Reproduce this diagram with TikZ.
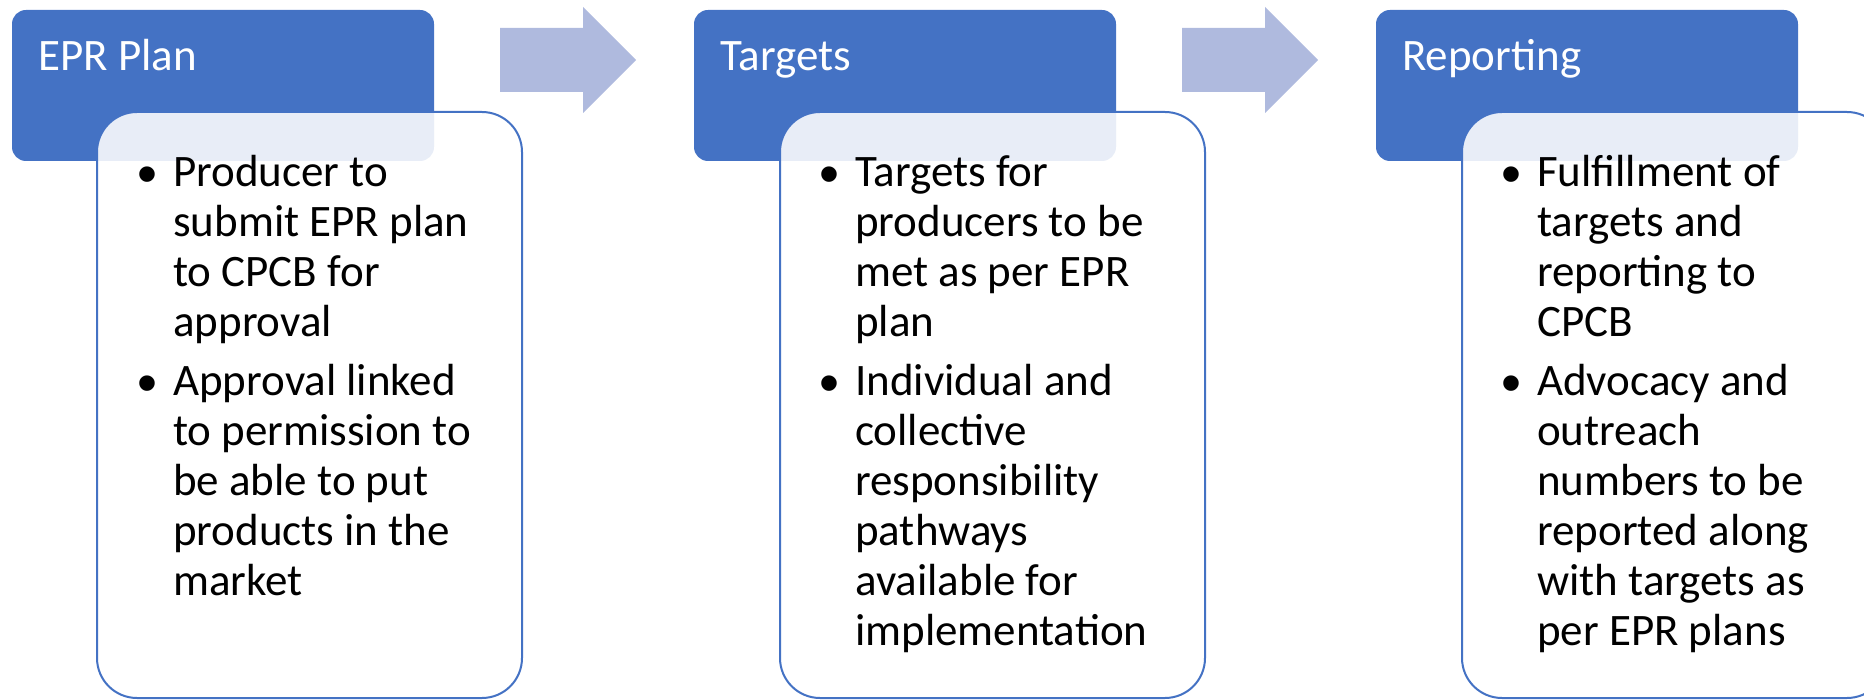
\documentclass[tikz,border=0pt]{standalone}
\usepackage{fontspec}
\setmainfont{Carlito}
\newfontfamily\bulletfont{Liberation Sans}

\definecolor{stageblue}{HTML}{4472C4}
\definecolor{arrowblue}{RGB}{175,186,222}

% one bulleted line and one continuation line of a stage's list
\newcommand{\bulletline}[1]{\hbox{\llap{{\bulletfont\fontsize{57}{57}\selectfont\raisebox{-6.5pt}{•}}\hskip 16pt}#1}}
\newcommand{\contline}[1]{\hbox{#1}}
\newcommand{\itemgap}{\vskip 9pt}

\tikzset{
  header/.style={fill=stageblue, draw=none, rounded corners=14pt,
    minimum width=422pt, minimum height=151pt, inner sep=0pt},
  bodybox/.style={fill=white, fill opacity=0.88, draw=stageblue, draw opacity=1,
    line width=2pt, rounded corners=40pt,
    minimum width=425pt, minimum height=586pt, inner sep=0pt},
  headtext/.style={text=white, inner sep=0pt, anchor=base west,
    font=\fontsize{45}{50}\selectfont},
  listtext/.style={text=black, inner sep=0pt, anchor=base west,
    font=\fontsize{45}{50}\selectfont},
  stagearrow/.style={fill=arrowblue, draw=none},
}

\begin{document}
\begin{tikzpicture}[x=1pt, y=-1pt]
  \useasboundingbox (0,0) rectangle (1864,700);
  \clip (0,0) rectangle (1864,700);

  % stage headers
  \node[header] (h1) at (223,85.5) {};
  \node[header] (h2) at (905,85.5) {};
  \node[header] (h3) at (1587,85.5) {};

  % stage bodies, overlapping the headers
  \node[bodybox] (b1) at (309.5,405) {};
  \node[bodybox] (b2) at (992.5,405) {};
  \node[bodybox] (b3) at (1674.5,405) {};

  % header titles
  \node[headtext] (t1) at (38,71) {EPR Plan};
  \node[headtext] (t2) at (720,71) {Targets};
  \node[headtext] (t3) at (1402,71) {Reporting};

  % bullet lists
  \node[listtext] (l1) at (173,187) {\vtop{%
    \bulletline{Producer to}
    \contline{submit EPR plan}
    \contline{to CPCB for}
    \contline{approval}
    \itemgap
    \bulletline{Approval linked}
    \contline{to permission to}
    \contline{be able to put}
    \contline{products in the}
    \contline{market}}};

  \node[listtext] (l2) at (855,187) {\vtop{%
    \bulletline{Targets for}
    \contline{producers to be}
    \contline{met as per EPR}
    \contline{plan}
    \itemgap
    \bulletline{Individual and}
    \contline{collective}
    \contline{responsibility}
    \contline{pathways}
    \contline{available for}
    \contline{implementation}}};

  \node[listtext] (l3) at (1537,187) {\vtop{%
    \bulletline{Fulfillment of}
    \contline{targets and}
    \contline{reporting to}
    \contline{CPCB}
    \itemgap
    \bulletline{Advocacy and}
    \contline{outreach}
    \contline{numbers to be}
    \contline{reported along}
    \contline{with targets as}
    \contline{per EPR plans}}};

  % block arrows between the stages
  \foreach \dx in {0,682} {
    \begin{scope}[xshift=\dx pt]
      \fill[stagearrow] (500,28) -- (583,28) -- (583,7) -- (636,60)
        -- (583,113) -- (583,92) -- (500,92) -- cycle;
    \end{scope}
  }
\end{tikzpicture}
\end{document}
